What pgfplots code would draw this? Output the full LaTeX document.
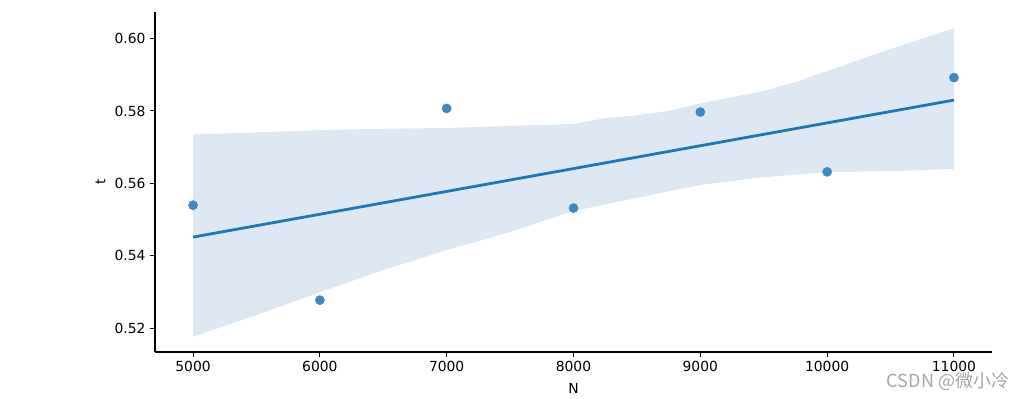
\documentclass[border=0pt]{standalone}
\usepackage{pgfplots}
\pgfplotsset{compat=1.18}
\usepackage{fontspec}
\setmainfont{DejaVu Sans}
\newfontfamily\cjk{Noto Sans CJK SC}
\definecolor{sbblue}{HTML}{1F77B4}
\definecolor{sbpt}{HTML}{3F88C0}
\definecolor{band}{HTML}{DDE8F3}
\begin{document}
\begin{tikzpicture}
\begin{axis}[
  scale only axis,
  width=627.75pt, height=255pt,
  xmin=4700, xmax=11300,
  ymin=0.5135, ymax=0.6073,
  axis x line*=bottom, axis y line*=left,
  axis line style={line width=0.8pt, -},
  xtick={5000,6000,7000,8000,9000,10000,11000},
  ytick={0.52,0.54,0.56,0.58,0.60},
  scaled x ticks=false, scaled y ticks=false,
  xticklabel style={/pgf/number format/.cd, fixed, 1000 sep={}},
  yticklabel style={/pgf/number format/.cd, fixed, fixed zerofill, precision=2},
  /pgf/number format/assume math mode=true,
  tick align=outside, major tick length=3.6pt,
  tick style={line width=0.8pt, black},
  ticklabel style={font=\fontsize{10.4}{12}\selectfont},
  label style={font=\fontsize{10.4}{12}\selectfont},
  xlabel={N}, ylabel={t},
  xlabel style={yshift=-2pt},
  ylabel style={yshift=0pt},
  clip=false,
]
\addplot[fill=band, draw=none] coordinates {
 (5000,0.5735) (5500,0.5741) (6000,0.5747) (6500,0.5751) (7000,0.5753) (7500,0.5759) (8000,0.5764)
 (8250,0.5780) (8500,0.5788) (8750,0.5800) (9000,0.5821) (9250,0.5838) (9500,0.5855) (9750,0.5880) (10000,0.5910) (10500,0.5971) (11000,0.6028)
 (11000,0.5640) (10500,0.5634) (10000,0.5631) (9500,0.5617) (9000,0.5596)
 (8500,0.5560) (8000,0.5524) (7500,0.5466) (7000,0.5416) (6500,0.5361)
 (6000,0.5300) (5500,0.5237) (5000,0.5177)
} -- cycle;
\addplot[sbblue, line width=2.1pt] coordinates {(5000,0.5452) (11000,0.5830)};
\addplot[only marks, mark=*, mark size=3.4pt, sbpt, mark options={draw=sbpt, fill=sbpt}] coordinates {
 (5000,0.5540) (6000,0.5278) (7000,0.5807) (8000,0.5532) (9000,0.5797) (10000,0.5632) (11000,0.5892)
};
\end{axis}
\node[text=gray!70, font=\cjk\fontsize{13.5}{14}\selectfont] at (594.75pt,-21.75pt) {CSDN @微小冷};
\pgfresetboundingbox
\useasboundingbox (-116.25pt,-35.25pt) rectangle (656.25pt,264pt);
\end{tikzpicture}
\end{document}
